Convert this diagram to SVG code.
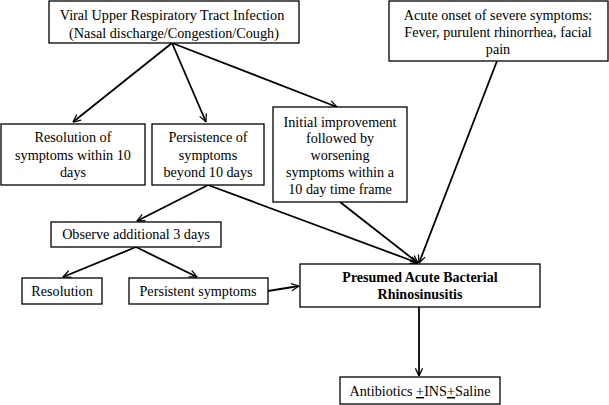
<svg xmlns="http://www.w3.org/2000/svg" width="609" height="405" viewBox="0 0 609 405">
<style>
.box{fill:#fff;stroke:#000;stroke-width:1.3}
.t{font-family:'Liberation Serif','Times New Roman',serif;font-size:14.2px;fill:#000;text-anchor:middle}
.b{font-weight:bold;font-size:14px}
.c{stroke:#000;stroke-width:1.8;fill:none;marker-end:url(#ah)}
</style>
<defs>
<marker id="ah" viewBox="0 0 10 10" refX="9.5" refY="5" markerWidth="9" markerHeight="9" orient="auto" markerUnits="userSpaceOnUse">
<path d="M1,1 L9.5,5 L1,9" fill="none" stroke="#000" stroke-width="1.4"/>
</marker>
</defs>
<rect width="609" height="405" fill="#fff"/>
<g id="connectors">
<line class="c" x1="172" y1="43" x2="73" y2="122"/>
<line class="c" x1="172" y1="43" x2="206" y2="122"/>
<line class="c" x1="172" y1="43" x2="337" y2="107"/>
<line class="c" x1="208" y1="185" x2="137" y2="221"/>
<line class="c" x1="208" y1="185" x2="418" y2="263"/>
<line class="c" x1="340" y1="202" x2="418" y2="263"/>
<line class="c" x1="497" y1="61" x2="419" y2="263"/>
<line class="c" x1="136" y1="247" x2="63" y2="277"/>
<line class="c" x1="136" y1="247" x2="197" y2="277"/>
<line class="c" x1="268" y1="291" x2="299" y2="286"/>
<line class="c" x1="419" y1="307" x2="419" y2="376"/>
</g>
<g id="viral">
<rect class="box" x="49" y="1" width="250" height="42"/>
<text class="t" x="172" y="20">Viral Upper Respiratory Tract Infection</text>
<text class="t" x="174" y="38">(Nasal discharge/Congestion/Cough)</text>
</g>
<g id="acute">
<rect class="box" x="389" y="1" width="219" height="60"/>
<text class="t" x="498" y="20">Acute onset of severe symptoms:</text>
<text class="t" x="498" y="37">Fever, purulent rhinorrhea, facial</text>
<text class="t" x="498" y="54">pain</text>
</g>
<g id="resolution10">
<rect class="box" x="1" y="124" width="144" height="61"/>
<text class="t" x="73" y="142">Resolution of</text>
<text class="t" x="73" y="160">symptoms within 10</text>
<text class="t" x="73" y="177">days</text>
</g>
<g id="persistence">
<rect class="box" x="152" y="124" width="112" height="61"/>
<text class="t" x="208" y="142">Persistence of</text>
<text class="t" x="208" y="160">symptoms</text>
<text class="t" x="208" y="177">beyond 10 days</text>
</g>
<g id="initial">
<rect class="box" x="273" y="107" width="134" height="95"/>
<text class="t" x="340" y="127">Initial improvement</text>
<text class="t" x="340" y="143">followed by</text>
<text class="t" x="340" y="160">worsening</text>
<text class="t" x="340" y="177">symptoms  within a</text>
<text class="t" x="340" y="194">10 day time frame</text>
</g>
<g id="observe">
<rect class="box" x="51" y="222" width="170" height="25"/>
<text class="t" x="136" y="239">Observe additional 3 days</text>
</g>
<g id="resolution">
<rect class="box" x="22" y="278" width="80" height="26"/>
<text class="t" x="62" y="296">Resolution</text>
</g>
<g id="persistent">
<rect class="box" x="129" y="278" width="139" height="26"/>
<text class="t" x="198" y="296">Persistent symptoms</text>
</g>
<g id="presumed">
<rect class="box" x="300" y="264" width="240" height="43"/>
<text class="t b" x="420" y="282">Presumed Acute Bacterial</text>
<text class="t b" x="420" y="299">Rhinosinusitis</text>
</g>
<g id="antibiotics">
<rect class="box" x="340" y="377" width="160" height="27"/>
<text class="t" x="420" y="396">Antibiotics <tspan text-decoration="underline">+</tspan>INS<tspan text-decoration="underline">+</tspan>Saline</text>
</g>
</svg>
